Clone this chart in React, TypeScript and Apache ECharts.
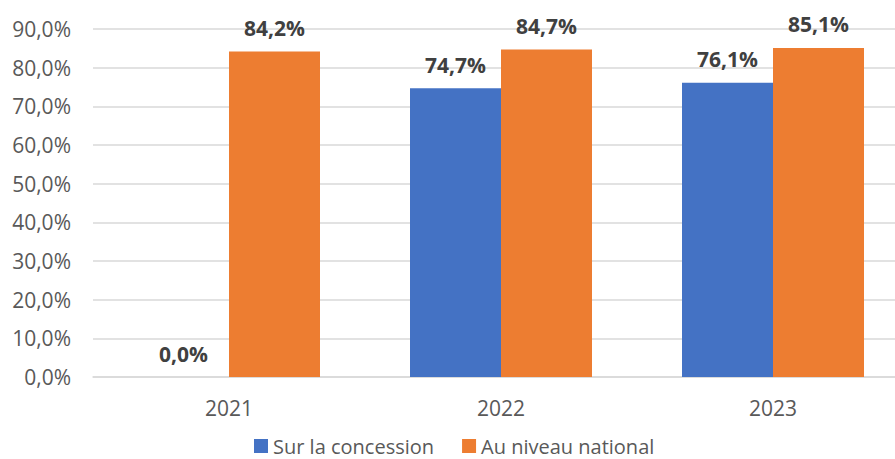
import React, { useEffect, useRef } from "react";
import * as echarts from "echarts";

const categories = ["2021", "2022", "2023"];
const concessionValues = [0.0, 74.7, 76.1];
const nationalValues = [84.2, 84.7, 85.1];
const seriesNames = ["Sur la concession", "Au niveau national"];

const fmt = (v: number) => v.toFixed(1).replace(".", ",") + "%";

export default function App() {
  const ref = useRef<HTMLDivElement>(null);
  useEffect(() => {
    if (!ref.current) return;
    const chart = echarts.init(ref.current, undefined, { renderer: "svg" });
    const font = "'Open Sans', 'Noto Sans', sans-serif";
    const label = {
      show: true,
      position: "top" as const,
      distance: 13,
      fontFamily: font,
      fontSize: 21,
      fontWeight: "bold" as const,
      color: "#404040",
      formatter: (p: any) => fmt(p.value),
    };
    chart.setOption({
      animation: false,
      textStyle: { fontFamily: font },
      grid: { left: 93, width: 816, top: 29, height: 348, containLabel: false },
      legend: {
        top: 436,
        left: 254,
        padding: 0,
        itemWidth: 14,
        itemHeight: 14,
        itemGap: 28,
        icon: "rect",
        textStyle: { fontFamily: font, fontSize: 20, lineHeight: 17, color: "#595959" },
        data: seriesNames,
      },
      xAxis: {
        type: "category",
        data: categories,
        axisLine: { show: true, lineStyle: { color: "#D9D9D9", width: 1.5 } },
        axisTick: { show: false },
        axisLabel: { fontFamily: font, fontSize: 21, color: "#595959", margin: 20 },
      },
      yAxis: {
        type: "value",
        min: 0,
        max: 90,
        interval: 10,
        axisLine: { show: false },
        axisTick: { show: false },
        splitLine: { lineStyle: { color: "#D9D9D9", width: 1.5 } },
        axisLabel: {
          fontFamily: font,
          fontSize: 21,
          color: "#595959",
          margin: 22,
          formatter: (v: number) => fmt(v),
        },
      },
      series: [
        {
          name: seriesNames[0],
          type: "bar",
          data: concessionValues,
          barWidth: 91,
          barGap: "0%",
          itemStyle: { color: "#4472C4" },
          label,
        },
        {
          name: seriesNames[1],
          type: "bar",
          data: nationalValues,
          barWidth: 91,
          barGap: "0%",
          itemStyle: { color: "#ED7D31" },
          label,
        },
      ],
    });
    return () => chart.dispose();
  }, []);
  return (
    <div style={{ width: 895, height: 459, position: "absolute", left: 0, top: 0, overflow: "hidden" }}>
      <div ref={ref} style={{ width: 930, height: 459 }} />
    </div>
  );
}
